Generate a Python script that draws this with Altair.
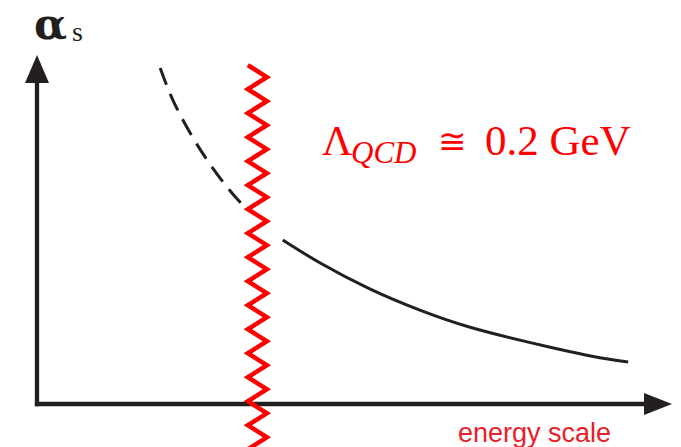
import altair as alt
import pandas as pd

# Running coupling alpha_s versus energy scale (arbitrary units: energy 0-10, alpha 0-1)
dashed_energy = [1.94, 2.14, 2.41, 2.68, 2.99, 3.24]
dashed_alpha = [0.963, 0.871, 0.777, 0.699, 0.622, 0.570]
solid_energy = [3.87, 4.46, 5.24, 6.03, 6.82, 7.72, 8.24, 8.76, 9.31]
solid_alpha = [0.470, 0.404, 0.330, 0.269, 0.220, 0.178, 0.156, 0.136, 0.120]

# Zig-zag band marking Lambda_QCD
ZIG_LEFT, ZIG_RIGHT = 3.32, 3.62
ZIG_TOP = 0.971
ZIG_STEP = 0.0344
ZIG_VERTICES = 34

X_MAX, Y_MAX = 10.0, 1.0
PAD = {"left": 37, "top": 55, "right": 9, "bottom": 43}
W, H = 681 - PAD["left"] - PAD["right"], 447 - PAD["top"] - PAD["bottom"]

INK = "#231f20"
RED = "#ff0000"

xs = alt.Scale(domain=[0, X_MAX], nice=False, zero=False)
ys = alt.Scale(domain=[0, Y_MAX], nice=False, zero=False)


def X(field="x"):
    return alt.X(f"{field}:Q", scale=xs, axis=None)


def Y(field="y"):
    return alt.Y(f"{field}:Q", scale=ys, axis=None)


curve_dashed = pd.DataFrame({"x": dashed_energy, "y": dashed_alpha,
                             "i": range(len(dashed_energy))})
curve_solid = pd.DataFrame({"x": solid_energy, "y": solid_alpha,
                            "i": range(len(solid_energy))})

zig = pd.DataFrame({
    "x": [ZIG_LEFT if k % 2 == 0 else ZIG_RIGHT for k in range(ZIG_VERTICES)],
    "y": [ZIG_TOP - k * ZIG_STEP for k in range(ZIG_VERTICES)],
    "i": list(range(ZIG_VERTICES)),
})

axes_df = pd.DataFrame({"x": [0, 0], "y": [0, 0],
                        "x2": [0, X_MAX - 0.2], "y2": [Y_MAX - 0.04, 0]})
axes = alt.Chart(axes_df).mark_rule(color=INK, strokeWidth=4.3, strokeCap="square").encode(
    x=X(), y=Y(), x2="x2:Q", y2="y2:Q")

up_tip = "M0,0 L0.857,2 L-0.857,2 Z"
right_tip = "M0,0 L-2,-0.786 L-2,0.786 Z"
tip_up = alt.Chart(pd.DataFrame({"x": [0], "y": [Y_MAX]})).mark_point(
    shape=up_tip, size=784, filled=True, color=INK, opacity=1, strokeWidth=0
).encode(x=X(), y=Y())
tip_right = alt.Chart(pd.DataFrame({"x": [X_MAX], "y": [0]})).mark_point(
    shape=right_tip, size=784, filled=True, color=INK, opacity=1, strokeWidth=0
).encode(x=X(), y=Y())

line_dashed = alt.Chart(curve_dashed).mark_line(
    color=INK, strokeWidth=3, strokeDash=[18, 10], interpolate="natural"
).encode(x=X(), y=Y(), order="i:Q")
line_solid = alt.Chart(curve_solid).mark_line(
    color=INK, strokeWidth=3, interpolate="natural"
).encode(x=X(), y=Y(), order="i:Q")

zigzag = alt.Chart(zig).mark_line(
    color=RED, strokeWidth=4.5, strokeJoin="miter", strokeMiterLimit=10
).encode(x=X(), y=Y(), order="i:Q")


def label(text, px, py, size, font, color, style="normal", weight="normal"):
    return alt.Chart(pd.DataFrame({"t": [text]})).mark_text(
        align="left", baseline="alphabetic", fontSize=size, font=font,
        color=color, fontStyle=style, fontWeight=weight
    ).encode(x=alt.value(px - PAD["left"]), y=alt.value(py - PAD["top"]), text="t:N")


texts = [
    label("α", 34, 39, 43, "DejaVu Serif", INK, weight="bold"),
    label("s", 72, 41, 28, "Liberation Serif", INK),
    label("Λ", 322, 155, 42, "Liberation Serif", RED),
    label("QCD", 351, 163, 31, "Liberation Serif", RED, "italic"),
    label("≅", 438, 153, 34, "DejaVu Serif", RED),
    label("0.2 GeV", 485, 155, 43, "Liberation Serif", RED),
    label("energy scale", 458, 442, 27, "Liberation Sans", "#e8202a"),
]

chart = alt.layer(
    line_dashed, line_solid, axes, tip_up, tip_right, zigzag, *texts
).properties(
    width=W, height=H,
    padding=PAD,
    autosize=alt.AutoSizeParams(type="none"),
    background="white",
).configure_view(stroke=None)

chart.save("out.html", embed_options={"renderer": "svg", "actions": False})
